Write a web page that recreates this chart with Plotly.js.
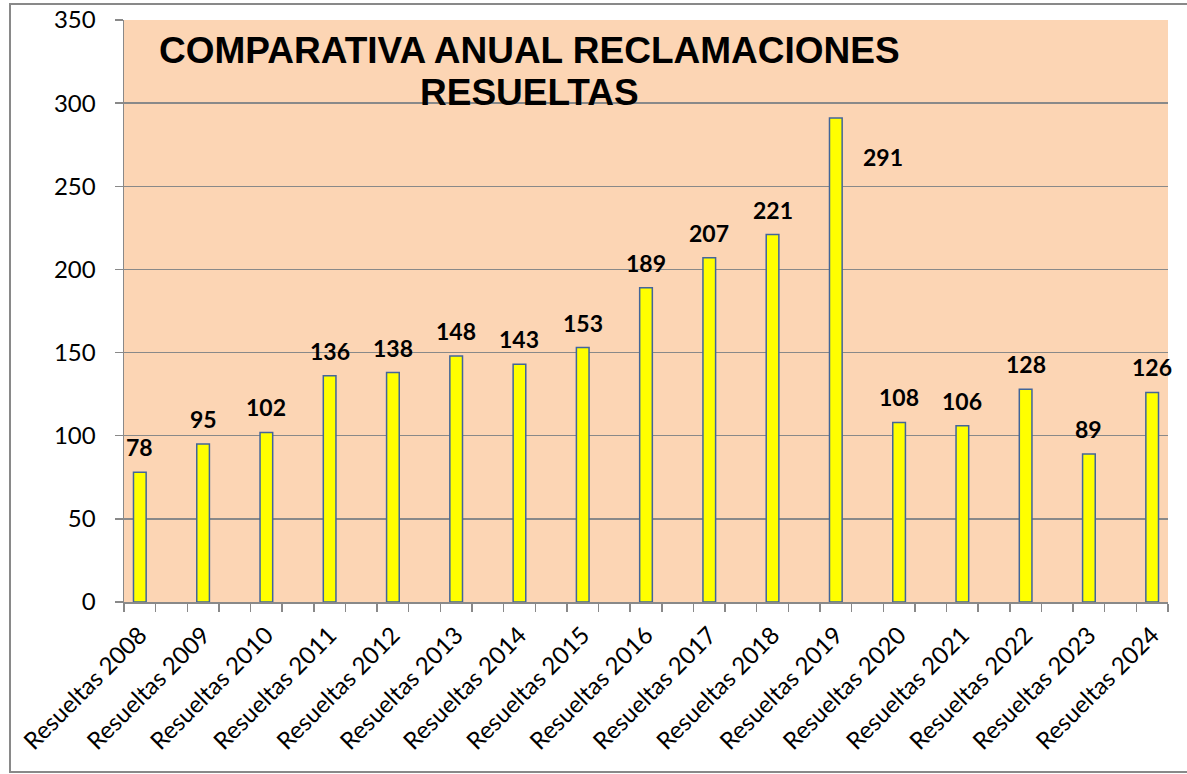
<!DOCTYPE html>
<html>
<head>
<meta charset="utf-8">
<script src="https://cdn.plot.ly/plotly-3.0.1.min.js"></script>
<style>html,body{margin:0;padding:0;background:#fff;}</style>
</head>
<body>
<div id="chart" style="width:1187px;height:774px;"></div>
<script>
const categories = ["Resueltas 2008","Resueltas 2009","Resueltas 2010","Resueltas 2011","Resueltas 2012","Resueltas 2013","Resueltas 2014","Resueltas 2015","Resueltas 2016","Resueltas 2017","Resueltas 2018","Resueltas 2019","Resueltas 2020","Resueltas 2021","Resueltas 2022","Resueltas 2023","Resueltas 2024"];
const values = [78, 95, 102, 136, 138, 148, 143, 153, 189, 207, 221, 291, 108, 106, 128, 89, 126];
const yTicks = [0, 50, 100, 150, 200, 250, 300, 350];
const titleLines = ["COMPARATIVA ANUAL RECLAMACIONES", "RESUELTAS"];

// Each year occupies every other slot on the axis (blank slot between years)
const xPos = categories.map((_, i) => 2 * i);
const nSlots = 2 * categories.length - 1;
const boundaries = [];
for (let k = 0; k <= nSlots; k++) boundaries.push(k - 0.5);

const gray = '#898989';

const annotations = values.map((v, i) => {
  const a = {
    x: xPos[i], y: v, xref: 'x', yref: 'y',
    text: String(v), showarrow: false,
    xanchor: 'center', yanchor: 'middle', yshift: 25,
    font: {family: 'Lato, Carlito, sans-serif', size: 23, color: '#000', weight: 'bold'}
  };
  if (categories[i] === 'Resueltas 2019') { a.xshift = 47; a.yshift = -39; }
  return a;
});
annotations.push({
  x: 0.388, y: 0.948, xref: 'paper', yref: 'paper', showarrow: false,
  text: '<b>' + titleLines[0] + '</b>', xanchor: 'center', yanchor: 'middle',
  font: {family: 'Liberation Sans, Arial, sans-serif', size: 37, color: '#000'}
});
annotations.push({
  x: 0.388, y: 0.876, xref: 'paper', yref: 'paper', showarrow: false,
  text: '<b>' + titleLines[1] + '</b>', xanchor: 'center', yanchor: 'middle',
  font: {family: 'Liberation Sans, Arial, sans-serif', size: 37, color: '#000'}
});

const trace = {
  type: 'bar', x: xPos, y: values, width: 0.4,
  marker: {color: '#FFFF00', line: {color: '#41659A', width: 1.5}},
  hoverinfo: 'none'
};

const layout = {
  width: 1187, height: 774,
  margin: {l: 124, r: 19, t: 20, b: 172},
  paper_bgcolor: '#ffffff', plot_bgcolor: '#FCD5B4',
  showlegend: false, bargap: 0,
  font: {family: 'Lato, Carlito, sans-serif', size: 24, color: '#000'},
  xaxis: {
    range: [-0.5, nSlots - 0.5], tickmode: 'array', tickvals: xPos, ticktext: categories,
    tickangle: -45, ticks: '', showgrid: false, zeroline: false,
    showline: true, linecolor: gray, linewidth: 1.5,
    ticklabelstandoff: 8,
    minor: {tickmode: 'array', tickvals: boundaries, ticks: 'outside', ticklen: 8, tickcolor: gray, tickwidth: 1.5, showgrid: false},
    tickfont: {family: 'Lato, Carlito, sans-serif', size: 24, color: '#000'}
  },
  yaxis: {
    range: [0, 350], tickmode: 'array', tickvals: yTicks,
    ticks: 'outside', ticklen: 8, tickcolor: gray, tickwidth: 1.5,
    showgrid: true, gridcolor: gray, gridwidth: 1.5, zeroline: false,
    showline: true, linecolor: gray, linewidth: 1.5,
    ticklabelstandoff: 14,
    tickfont: {family: 'Lato, Carlito, sans-serif', size: 24, color: '#000'}
  },
  annotations: annotations,
  shapes: [{
    type: 'rect', xref: 'paper', yref: 'paper',
    x0: (10 - 124) / 1044, x1: (1200 - 124) / 1044,
    y0: (602 - 772) / 582, y1: (602 - 4) / 582,
    line: {color: gray, width: 2}, fillcolor: 'rgba(0,0,0,0)', layer: 'below'
  }]
};

Plotly.newPlot('chart', [trace], layout, {displayModeBar: false, staticPlot: true});
</script>
</body>
</html>
